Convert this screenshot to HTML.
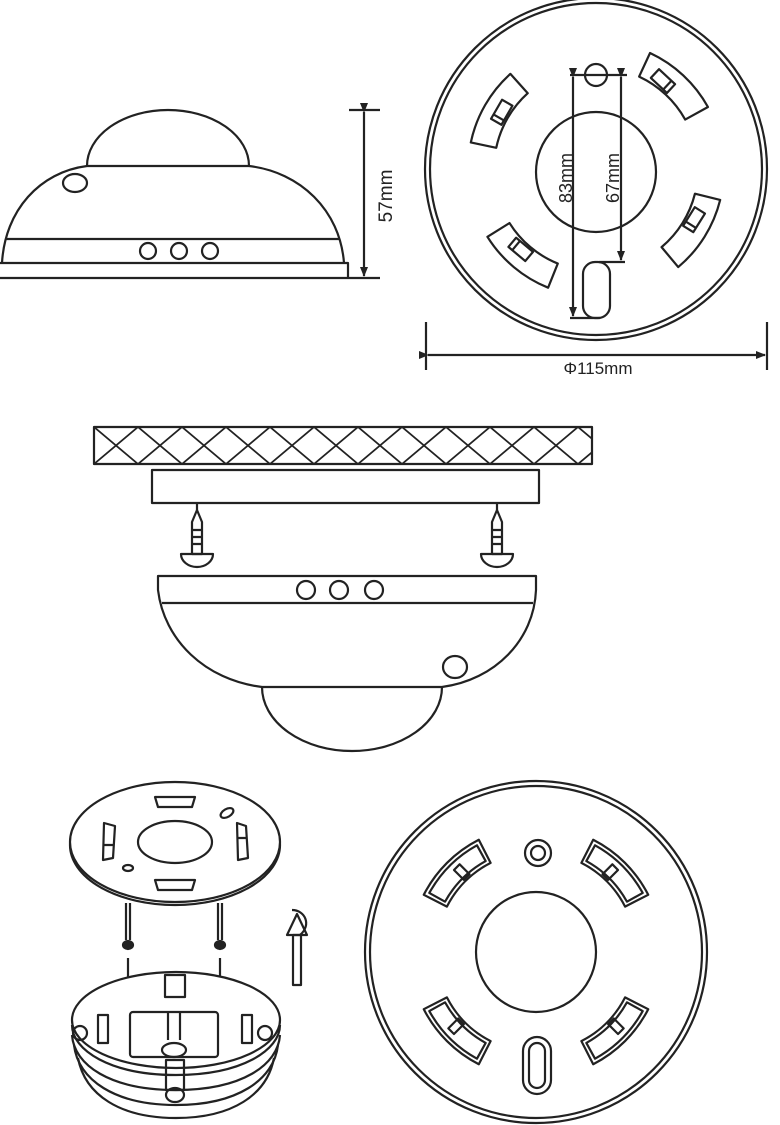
<!DOCTYPE html>
<html><head><meta charset="utf-8"><style>html,body{margin:0;padding:0;background:#fff}svg{display:block}</style></head>
<body>
<svg width="780" height="1125" viewBox="0 0 780 1125" xmlns="http://www.w3.org/2000/svg" fill="none" stroke="#222" stroke-width="2.2" stroke-linejoin="round" font-family="Liberation Sans, sans-serif">
<defs>
<pattern id="hx" x="94" y="427" width="44" height="37" patternUnits="userSpaceOnUse">
<path d="M0,0 L44,37 M0,37 L44,0" stroke="#222" stroke-width="1.8"/>
</pattern>
<marker id="ar" markerWidth="10" markerHeight="10" refX="9" refY="5" orient="auto" markerUnits="userSpaceOnUse"><path d="M0,1 L10,5 L0,9 z" fill="#222" stroke="none"/></marker>
<path id="tabA" d="M121.7,-39.6 A128,128 0 0 1 121.7,39.6 L97,31.5 A102,102 0 0 0 97,-31.5 Z"/>
<path id="tabB" d="M119.8,-38.9 A126,126 0 0 1 119.8,38.9 L95.1,30.9 A100,100 0 0 0 95.1,-30.9 Z"/>
<path id="tabB2" d="M117.2,-33.7 A122,122 0 0 1 117.2,33.7 L99.9,28.7 A104,104 0 0 0 99.9,-28.7 Z"/>
</defs>

<!-- Top-left side view -->
<path d="M87,166 A81,56 0 0 1 249,166"/>
<path d="M2,263 C5,210 40,172 87,166 L249,166 C300,172 340,210 344,263"/>
<line x1="5" y1="239" x2="340" y2="239"/>
<circle cx="148" cy="251" r="8"/><circle cx="179" cy="251" r="8"/><circle cx="210" cy="251" r="8"/>
<ellipse cx="75" cy="183" rx="12" ry="9"/>
<path d="M0,263 L348,263 L348,278"/>
<line x1="0" y1="278" x2="380" y2="278"/>
<line x1="349" y1="110" x2="380" y2="110"/>
<line x1="364" y1="112" x2="364" y2="276" marker-start="url(#ar)" marker-end="url(#ar)"/>
<text transform="translate(392,196) rotate(-90)" text-anchor="middle" font-size="19" fill="#222" stroke="none">57mm</text>

<!-- Top-right plan -->
<circle cx="596" cy="169" r="171"/>
<circle cx="596" cy="169" r="166"/>
<circle cx="596" cy="172" r="60"/>
<circle cx="596" cy="75" r="11"/>
<rect x="583" y="262" width="27" height="56" rx="12"/>
<g transform="translate(596,169) rotate(-150)"><use href="#tabA"/><rect x="104" y="-9" width="12" height="22"/><line x1="104" y1="-4" x2="116" y2="-4"/></g>
<g transform="translate(596,169) rotate(-47)"><use href="#tabA"/><rect x="104" y="-22" width="12" height="22"/><line x1="104" y1="-5" x2="116" y2="-5"/></g>
<g transform="translate(596,169) rotate(32)"><use href="#tabA"/><rect x="104" y="-20" width="12" height="22"/><line x1="104" y1="-3" x2="116" y2="-3"/></g>
<g transform="translate(596,169) rotate(130)"><use href="#tabA"/><rect x="104" y="-5" width="12" height="22"/><line x1="104" y1="12" x2="116" y2="12"/></g>
<line x1="570" y1="75" x2="627" y2="75"/>
<line x1="570" y1="318" x2="600" y2="318"/>
<line x1="599" y1="262" x2="625" y2="262"/>
<line x1="573" y1="77" x2="573" y2="316" marker-start="url(#ar)" marker-end="url(#ar)"/>
<line x1="621" y1="77" x2="621" y2="260" marker-start="url(#ar)" marker-end="url(#ar)"/>
<text transform="translate(572,178) rotate(-90)" text-anchor="middle" font-size="18" fill="#222" stroke="none">83mm</text>
<text transform="translate(619,178) rotate(-90)" text-anchor="middle" font-size="18" fill="#222" stroke="none">67mm</text>
<line x1="426" y1="322" x2="426" y2="370"/>
<line x1="767" y1="322" x2="767" y2="370"/>
<line x1="428" y1="355" x2="765" y2="355" marker-start="url(#ar)" marker-end="url(#ar)"/>
<text x="598" y="374" text-anchor="middle" font-size="17" fill="#222" stroke="none">Φ115mm</text>

<!-- Middle mounting view -->
<rect x="94" y="427" width="498" height="37" fill="url(#hx)"/>
<rect x="152" y="470" width="387" height="33"/>
<g id="scr">
<line x1="197" y1="503" x2="197" y2="510"/>
<path d="M192,522 L197,510 L202,522 L202,554 L192,554 Z"/>
<path d="M192,530 h10 M192,537 h10 M192,544 h10"/>
<path d="M181,554 L213,554 A16,13 0 0 1 181,554 Z"/>
</g>
<use href="#scr" transform="translate(300,0)"/>
<path d="M158,576 L536,576 L536,590 C534,640 495,680 442,687 L262,687 C205,680 164,640 158,590 Z"/>
<line x1="162" y1="603" x2="533" y2="603"/>
<circle cx="306" cy="590" r="9"/><circle cx="339" cy="590" r="9"/><circle cx="374" cy="590" r="9"/>
<ellipse cx="455" cy="667" rx="12" ry="11"/>
<path d="M262,687 A90,64 0 0 0 442,687"/>

<!-- Bottom-left exploded -->
<ellipse cx="175" cy="845" rx="105" ry="60"/>
<ellipse cx="175" cy="842" rx="105" ry="60" fill="#fff"/>
<ellipse cx="175" cy="842" rx="37" ry="21"/>
<path d="M155,797 L195,797 L192,807 L158,807 Z"/>
<path d="M155,880 L195,880 L192,890 L158,890 Z"/>
<path d="M104,823 L115,826 L113,858 L103,860 Z M104,845 h10"/>
<path d="M237,823 L246,826 L248,858 L238,860 Z M237,838 h10"/>
<ellipse cx="227" cy="813" rx="7" ry="4" transform="rotate(-30 227 813)"/>
<ellipse cx="128" cy="868" rx="5" ry="3"/>
<path d="M126,903 L126,940 M130,903 L130,940"/>
<ellipse cx="128" cy="945" rx="5" ry="4" fill="#222"/>
<path d="M218,903 L218,940 M222,903 L222,940"/>
<ellipse cx="220" cy="945" rx="5" ry="4" fill="#222"/>
<line x1="128" y1="958" x2="128" y2="985"/>
<line x1="220" y1="958" x2="220" y2="985"/>
<path d="M72,1025 C72,1050 110,1075 176,1075 C242,1075 280,1050 280,1025"/>
<path d="M72,1035 C74,1065 110,1090 176,1090 C242,1090 278,1065 280,1035"/>
<path d="M74,1045 C78,1080 115,1105 176,1105 C237,1105 274,1080 278,1045"/>
<path d="M78,1058 C85,1095 120,1118 176,1118 C232,1118 267,1095 274,1058"/>
<ellipse cx="176" cy="1020" rx="104" ry="48" fill="#fff"/>
<rect x="165" y="975" width="20" height="22"/>
<rect x="130" y="1012" width="88" height="45" rx="3"/>
<line x1="168" y1="1012" x2="168" y2="1040"/><line x1="180" y1="1012" x2="180" y2="1040"/>
<ellipse cx="174" cy="1050" rx="12" ry="7"/>
<rect x="166" y="1060" width="18" height="30"/>
<ellipse cx="175" cy="1095" rx="9" ry="7"/>
<rect x="98" y="1015" width="10" height="28"/>
<rect x="242" y="1015" width="10" height="28"/>
<circle cx="80" cy="1033" r="7"/><circle cx="265" cy="1033" r="7"/>
<rect x="293" y="935" width="8" height="50"/>
<path d="M287,935 L297,914 L307,935 Z"/>
<path d="M292,910 C305,910 312,925 300,935"/>

<!-- Bottom-right plan -->
<circle cx="536" cy="952" r="171"/>
<circle cx="536" cy="952" r="166"/>
<circle cx="536" cy="952" r="60"/>
<circle cx="538" cy="853" r="13"/>
<circle cx="538" cy="853" r="7"/>
<rect x="523" y="1037" width="28" height="57" rx="14"/>
<rect x="529" y="1043" width="16" height="45" rx="8"/>
<g transform="translate(536,952) rotate(-135)"><use href="#tabB"/><use href="#tabB2"/><rect x="102" y="0" width="14" height="8"/></g>
<g transform="translate(536,952) rotate(-45)"><use href="#tabB"/><use href="#tabB2"/><rect x="102" y="-8" width="14" height="8"/></g>
<g transform="translate(536,952) rotate(45)"><use href="#tabB"/><use href="#tabB2"/><rect x="102" y="-8" width="14" height="8"/></g>
<g transform="translate(536,952) rotate(135)"><use href="#tabB"/><use href="#tabB2"/><rect x="102" y="0" width="14" height="8"/></g>
</svg>
</body></html>
